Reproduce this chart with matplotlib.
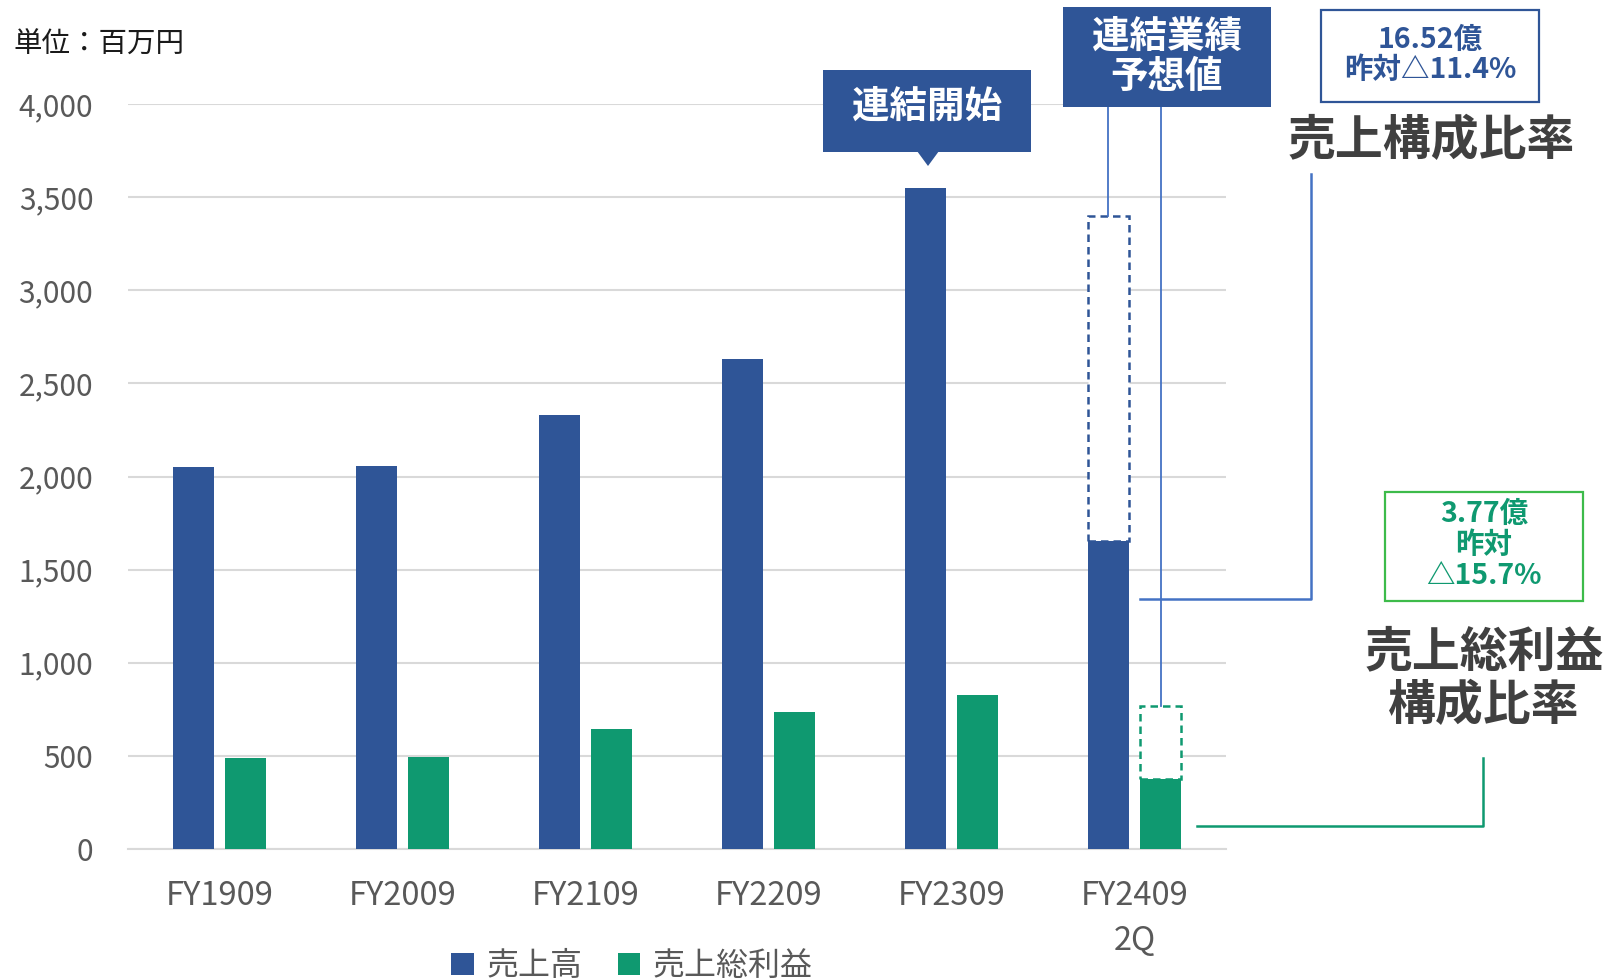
import matplotlib
matplotlib.use("Agg")
import matplotlib.pyplot as plt
from matplotlib.patches import Rectangle, Polygon
from matplotlib.lines import Line2D

plt.rcParams['font.family'] = ['Noto Sans CJK JP', 'DejaVu Sans']

categories = ["FY1909", "FY2009", "FY2109", "FY2209", "FY2309", "FY2409\n2Q"]
sales = [2050, 2055, 2330, 2630, 3550, 1652]
gross_profit = [490, 495, 645, 735, 825, 377]
sales_forecast = 3400
gp_forecast = 770
yticks = list(range(0, 4001, 500))

BLUE = "#2F5597"
GREEN = "#0F9970"
GRAY_TXT = "#595959"
GRID = "#D9D9D9"

W, H = 1607, 980
fig = plt.figure(figsize=(W / 100, H / 100), dpi=100)

def fx(x):
    return x / W

def fy(y):
    return 1 - y / H

ax = fig.add_axes([fx(128), fy(849), fx(1226) - fx(128), fy(104) - fy(849)])
x = list(range(len(categories)))
bw = 0.224
off = 0.143
xb = [i - off for i in x]
xg = [i + off for i in x]

# dashed forecast outlines for last period
ax.bar(xb[-1], sales_forecast - sales[-1], bottom=sales[-1], width=bw, facecolor="white",
       edgecolor=BLUE, linestyle=(0, (3, 2)), linewidth=1.8, zorder=2)
ax.bar(xg[-1], gp_forecast - gross_profit[-1], bottom=gross_profit[-1], width=bw, facecolor="white",
       edgecolor=GREEN, linestyle=(0, (3, 2)), linewidth=1.8, zorder=2)

ax.bar(xb, sales, width=bw, color=BLUE, label="売上高", zorder=3)
ax.bar(xg, gross_profit, width=bw, color=GREEN, label="売上総利益", zorder=3)

ax.set_xlim(-0.5, len(categories) - 0.5)
ax.set_ylim(0, 4000)
ax.set_yticks(yticks)
ax.set_yticklabels([f"{v:,}" for v in yticks])
ax.set_xticks(x)
ax.set_xticklabels(categories, linespacing=1.55)
ax.tick_params(axis="y", length=0, pad=25, labelsize=21.5, labelcolor=GRAY_TXT)
ax.tick_params(axis="x", length=0, pad=22, labelsize=23.5, labelcolor=GRAY_TXT)
for lbl in ax.get_yticklabels():
    lbl.set_verticalalignment("center_baseline")
ax.grid(axis="y", color=GRID, linewidth=1.5, zorder=0)
ax.set_axisbelow(True)
for s in ["top", "right", "left"]:
    ax.spines[s].set_visible(False)
ax.spines["bottom"].set_color(GRID)
ax.spines["bottom"].set_linewidth(1.5)

# vertical lines from forecast box down to forecast tops
box_bottom_data = 3990
ax.plot([xb[-1], xb[-1]], [sales_forecast, box_bottom_data], color="#4472C4", lw=1.3,
        clip_on=False, zorder=4)
ax.plot([xg[-1], xg[-1]], [gp_forecast, box_bottom_data], color="#4472C4", lw=1.3,
        clip_on=False, zorder=4)

# unit label
fig.text(fx(13), fy(45), "単位：百万円", fontsize=20.5, color="#1a1a1a", va="center", ha="left")

# 連結開始 callout
fig.add_artist(Rectangle((fx(823), fy(152)), fx(1031) - fx(823), fy(70) - fy(152),
                         transform=fig.transFigure, facecolor=BLUE, edgecolor="none"))
fig.add_artist(Polygon([(fx(917), fy(151)), (fx(939), fy(151)), (fx(928), fy(166))],
                       closed=True, transform=fig.transFigure, facecolor=BLUE, edgecolor="none"))
fig.text(fx(927), fy(106), "連結開始", fontsize=27, fontweight="bold", color="white",
         ha="center", va="center")

# 連結業績予想値 box
fig.add_artist(Rectangle((fx(1063), fy(107)), fx(1271) - fx(1063), fy(7) - fy(107),
                         transform=fig.transFigure, facecolor=BLUE, edgecolor="none"))
fig.text(fx(1167), fy(56), "連結業績\n予想値", fontsize=27, fontweight="bold", color="white",
         ha="center", va="center", linespacing=1.05)

# blue info box
fig.add_artist(Rectangle((fx(1321), fy(102)), fx(1539) - fx(1321), fy(10) - fy(102),
                         transform=fig.transFigure, facecolor="white", edgecolor=BLUE, lw=1.6))
fig.text(fx(1430), fy(55), "16.52億\n昨対△11.4%", fontsize=20.5, fontweight="bold", color=BLUE,
         ha="center", va="center", linespacing=1.1)
fig.text(fx(1431), fy(141), "売上構成比率", fontsize=34.5, fontweight="bold", color="#404040",
         ha="center", va="center")
fig.add_artist(Line2D([fx(1140), fx(1311), fx(1311)], [fy(599), fy(599), fy(174)],
                      transform=fig.transFigure, color="#4472C4", lw=1.8))

# green info box
fig.add_artist(Rectangle((fx(1385), fy(601)), fx(1583) - fx(1385), fy(492) - fy(601),
                         transform=fig.transFigure, facecolor="white", edgecolor="#3DBB4A", lw=1.6))
fig.text(fx(1484), fy(545), "3.77億\n昨対\n△15.7%", fontsize=20.5, fontweight="bold", color=GREEN,
         ha="center", va="center", linespacing=1.13)
fig.text(fx(1484), fy(679), "売上総利益\n構成比率", fontsize=34.5, fontweight="bold", color="#404040",
         ha="center", va="center", linespacing=1.12)
fig.add_artist(Line2D([fx(1197), fx(1483), fx(1483)], [fy(826), fy(826), fy(758)],
                      transform=fig.transFigure, color=GREEN, lw=1.8))

fig.legend(loc="center", bbox_to_anchor=(fx(632), fy(966)), ncol=2, frameon=False,
           fontsize=23, labelcolor=GRAY_TXT, handlelength=0.7, handleheight=0.7,
           handletextpad=0.4, columnspacing=1.1, borderpad=0)

fig.savefig("out.png", dpi=100)
